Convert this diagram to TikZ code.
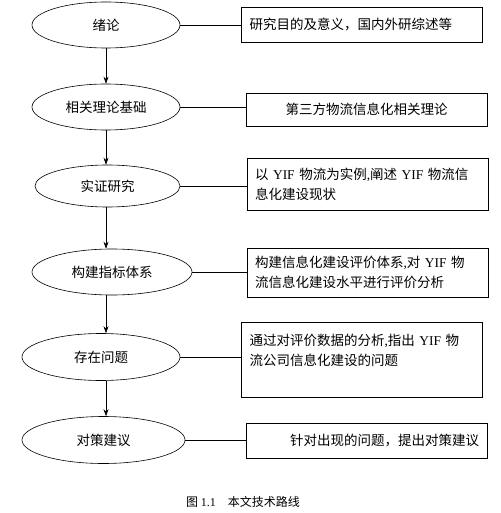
\documentclass[tikz,border=0pt]{standalone}
\usepackage{fontspec}
\setmainfont{Noto Sans CJK SC}
\newfontfamily\lat{Liberation Serif}
\usepackage{tikz}
\usetikzlibrary{shapes.geometric,arrows.meta}

\newcommand{\yif}{{\lat YIF}}

\tikzset{
  stage/.style={ellipse, draw, line width=.6pt, inner sep=0pt, font=\fontsize{13.5}{16}\selectfont},
  note/.style={draw, line width=.6pt, inner xsep=8pt, text width=225pt, font=\fontsize{13.5}{20}\selectfont},
  link/.style={line width=.6pt},
  arr/.style={line width=.6pt, -{Stealth[length=7pt,width=5pt]}}
}

\begin{document}
\begin{tikzpicture}[x=1pt,y=-1pt]
             \useasboundingbox (0,0) rectangle (500,513);

             % stages
             \node[stage, minimum width=148pt, minimum height=46pt] (s1) at (106,25) {绪论};
             \node[stage, minimum width=148pt, minimum height=46pt] (s2) at (106,107) {相关理论基础};
             \node[stage, minimum width=145pt, minimum height=42pt] (s3) at (107.5,186) {实证研究};
             \node[stage, minimum width=160pt, minimum height=46pt] (s4) at (112,272) {构建指标体系};
             \node[stage, minimum width=158pt, minimum height=47pt] (s5) at (101,357) {存在问题};
             \node[stage, minimum width=163pt, minimum height=47pt] (s6) at (103.5,440) {对策建议};

             % notes
             \node[note, align=left, minimum height=35pt] (n1) at (362,24.5)
                  {研究目的及意义，国内外研综述等};
             \node[note, align=center, minimum height=33pt] (n2) at (366.5,109.5)
                  {第三方物流信息化相关理论};
             \node[note, align=left, minimum height=52pt] (n3) at (367.5,184)
                  {以 \yif{} 物流为实例{\lat ,}阐述 \yif{} 物流信\\息化建设现状};
             \node[note, align=left, minimum height=49pt] (n4) at (367.5,272.5)
                  {构建信息化建设评价体系{\lat ,}对 \yif{} 物\\流信息化建设水平进行评价分析};
             \node[note, align=left, minimum height=75pt] (n5) at (362,359.5)
                  {通过对评价数据的分析{\lat ,}指出 \yif{} 物\\流公司信息化建设的问题\\ \mbox{}};
             \node[note, align=right, minimum height=35pt] (n6) at (366.5,440.5)
                  {针对出现的问题，提出对策建议};

             % flow
             \draw[arr] (s1.south) -- (s2.north -| s1.south);
             \draw[arr] (s2.south) -- (s3.north -| s2.south);
             \draw[arr] (s3.south -| s1.south) -- (s4.north -| s1.south);
             \draw[arr] (s4.south -| s1.south) -- (s5.north -| s1.south);
             \draw[arr] (s5.south -| s1.south) -- (s6.north -| s1.south);

             % links to notes
             \draw[link] (s1.east) -- (s1.east -| n1.west);
             \draw[link] (s2.east) -- (s2.east -| n2.west);
             \draw[link] (s3.east) -- (s3.east -| n3.west);
             \draw[link] (s4.east) -- (s4.east -| n4.west);
             \draw[link] (s5.east) -- (s5.east -| n5.west);
             \draw[link] (s6.east) -- (s6.east -| n6.west);

             \node[font=\fontsize{12}{14}\selectfont] (cap) at (243,502) {图 {\lat 1.1}\quad 本文技术路线};
\end{tikzpicture}
\end{document}
